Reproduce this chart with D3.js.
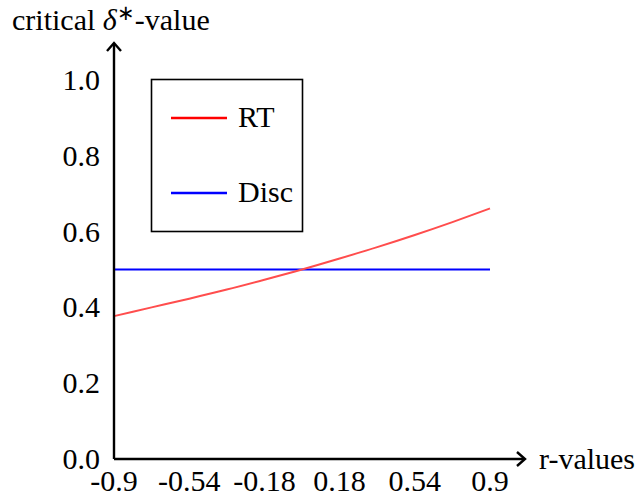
<!DOCTYPE html>
<html>
<head>
<meta charset="utf-8">
<script src="https://cdn.jsdelivr.net/npm/d3@7"></script>
<style>
  body { margin: 0; background: #fff; }
  text { font-family: "Liberation Serif", "Times New Roman", serif; fill: #000; }
</style>
</head>
<body>
<svg id="chart" width="642" height="498"></svg>
<script>
// values
const rValues = [-0.9, -0.72, -0.54, -0.36, -0.18, 0, 0.18, 0.36, 0.54, 0.72, 0.9];
const rtValues = [0.377, 0.400, 0.423, 0.447, 0.473, 0.500, 0.529, 0.559, 0.591, 0.625, 0.661];
const discValues = [0.5, 0.5, 0.5, 0.5, 0.5, 0.5, 0.5, 0.5, 0.5, 0.5, 0.5];
const xTicks = [-0.9, -0.54, -0.18, 0.18, 0.54, 0.9];
const yTicks = [0.0, 0.2, 0.4, 0.6, 0.8, 1.0];
const seriesNames = ["RT", "Disc"];

const svg = d3.select('#chart');

const x = d3.scaleLinear().domain([-0.9, 0.9]).range([114, 490]);
const y = d3.scaleLinear().domain([0, 1]).range([459, 80]);

// curves
const line = d3.line().x(d => x(d[0])).y(d => y(d[1])).curve(d3.curveMonotoneX);

svg.append('path')
  .datum(rValues.map((r, i) => [r, discValues[i]]))
  .attr('d', line)
  .attr('fill', 'none')
  .attr('stroke', '#0000ff')
  .attr('stroke-width', 2);

svg.append('path')
  .datum(rValues.map((r, i) => [r, rtValues[i]]))
  .attr('d', line)
  .attr('fill', 'none')
  .attr('stroke', '#ff4d4d')
  .attr('stroke-width', 2);

// axes with arrows
const axisG = svg.append('g').attr('stroke', '#000').attr('stroke-width', 2.4).attr('fill', 'none');
axisG.append('line').attr('x1', x(-0.9)).attr('y1', y(0)).attr('x2', 524).attr('y2', y(0));
axisG.append('path').attr('d', `M517,${y(0) - 7} L525,${y(0)} L517,${y(0) + 7}`);
axisG.append('line').attr('x1', x(-0.9)).attr('y1', y(0)).attr('x2', x(-0.9)).attr('y2', 44);
axisG.append('path').attr('d', `M${x(-0.9) - 7},51 L${x(-0.9)},43 L${x(-0.9) + 7},51`);

// tick labels
svg.append('g').selectAll('text')
  .data(xTicks)
  .join('text')
  .attr('x', d => x(d))
  .attr('y', 491)
  .attr('text-anchor', 'middle')
  .attr('font-size', 30)
  .text(d => d);

svg.append('g').selectAll('text')
  .data(yTicks)
  .join('text')
  .attr('x', 100)
  .attr('y', d => y(d) + 10)
  .attr('text-anchor', 'end')
  .attr('font-size', 30)
  .text(d => d.toFixed(1));

// axis titles
svg.append('text')
  .attr('x', 539)
  .attr('y', 469)
  .attr('font-size', 30)
  .text('r-values');

const title = svg.append('text').attr('x', 12).attr('y', 30).attr('font-size', 30);
title.append('tspan').text('critical ');
title.append('tspan').attr('font-style', 'italic').text('δ');
title.append('tspan').attr('dy', -10).attr('font-size', 21).text('∗');
title.append('tspan').attr('dy', 10).text('-value');

// legend
svg.append('rect')
  .attr('x', 151.5).attr('y', 79.5)
  .attr('width', 151).attr('height', 152)
  .attr('fill', '#fff').attr('stroke', '#000').attr('stroke-width', 1.6);

const legendColors = ['#ff0000', '#0000ff'];
const legendY = [118, 193];
const leg = svg.append('g').selectAll('g')
  .data(seriesNames)
  .join('g');
leg.append('line')
  .attr('x1', 171).attr('x2', 227)
  .attr('y1', (d, i) => legendY[i]).attr('y2', (d, i) => legendY[i])
  .attr('stroke', (d, i) => legendColors[i])
  .attr('stroke-width', 2.5);
leg.append('text')
  .attr('x', 238)
  .attr('y', (d, i) => legendY[i] + 9)
  .attr('font-size', 30)
  .text(d => d);
</script>
</body>
</html>
